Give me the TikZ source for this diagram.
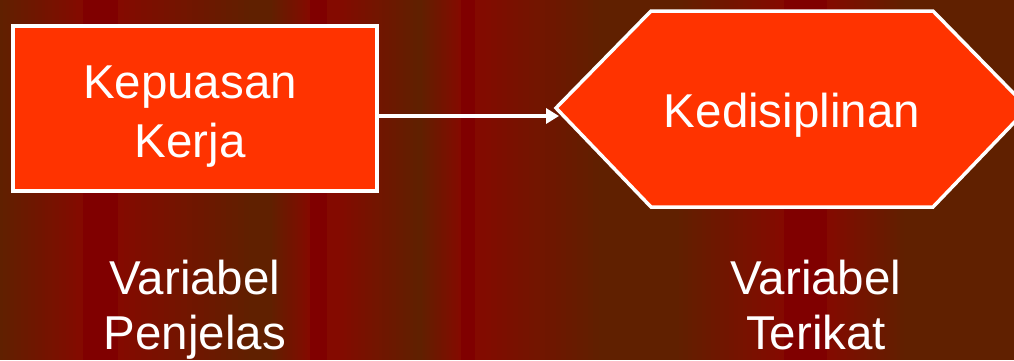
\documentclass[tikz,border=0pt]{standalone}
\usepackage{fontspec}
\setmainfont{Liberation Sans}
\usetikzlibrary{arrows.meta}
\definecolor{bgbrown}{HTML}{602000}
\definecolor{bgred}{HTML}{800000}
\definecolor{bgmid}{HTML}{840A00}
\definecolor{shapefill}{HTML}{FF3300}
\tikzset{
  shapeline/.style={draw=white, line width=3.5pt, fill=shapefill, line join=miter},
  txt/.style={text=white, font=\fontsize{47.5}{55}\selectfont, align=center, inner sep=0pt, anchor=base},
  link/.style={draw=white, line width=3.5pt, -{Triangle[length=13pt,width=15pt]}}
}
% a horizontal colour ramp built from thin solid strips
\newcommand\bandramp[4]{%
  \foreach \k in {0,...,23}{%
    \pgfmathsetmacro\xa{#1+(#2-#1)*\k/24}%
    \pgfmathsetmacro\xb{#1+(#2-#1)*(\k+1)/24+0.6}%
    \pgfmathtruncatemacro\pc{100-100*\k/23}%
    \fill[#3!\pc!#4] (\xa,0) rectangle (\xb,360);
  }%
}
\begin{document}
\begin{tikzpicture}[x=1pt,y=1pt]
\useasboundingbox (0,0) rectangle (1014,360);
% striped background
\bandramp{0}{83}{bgbrown}{bgmid}
\fill[bgred] (82.5,0) rectangle (118,360);
\bandramp{118}{255}{bgmid}{bgbrown}
\fill[bgbrown] (254.5,0) rectangle (270,360);
\bandramp{270}{310}{bgbrown}{bgmid}
\fill[bgred] (309.5,0) rectangle (327,360);
\fill[bgmid] (326.5,0) rectangle (337,360);
\bandramp{337}{420}{bgmid}{bgbrown}
\bandramp{420}{461}{bgbrown}{bgmid}
\fill[bgred] (460.5,0) rectangle (475,360);
\bandramp{475}{604}{bgmid}{bgbrown}
\fill[bgbrown] (603.5,0) rectangle (674,360);
\bandramp{674}{784}{bgbrown}{bgmid}
\fill[bgred] (783.5,0) rectangle (827,360);
\bandramp{827}{907}{bgmid}{bgbrown}
\fill[bgbrown] (906.5,0) rectangle (1014,360);

% explanatory variable box
\node[shapeline, rectangle, minimum width=364pt, minimum height=165pt] (kbox) at (195,251.5) {};
\node[txt] (ktext) at (190,203) {Kepuasan\\[4pt]Kerja};

% dependent variable hexagon, its right tip runs past the edge
\begin{scope}
\clip (0,0) rectangle (1014,360);
\path[shapeline] (556,252) -- (651,349) -- (933,349) -- (1028,252) -- (933,153) -- (651,153) -- cycle;
\end{scope}
\node[txt] (dtext) at (792,233) {Kedisiplinan};
\coordinate (hexin) at (559,244);

% causal link
\draw[link] ([yshift=-7.5pt]kbox.east) -- (hexin);

% captions
\node[txt] (vpen) at (195,11) {Variabel\\Penjelas};
\node[txt] (vter) at (816,11) {Variabel\\Terikat};
\end{tikzpicture}
\end{document}
